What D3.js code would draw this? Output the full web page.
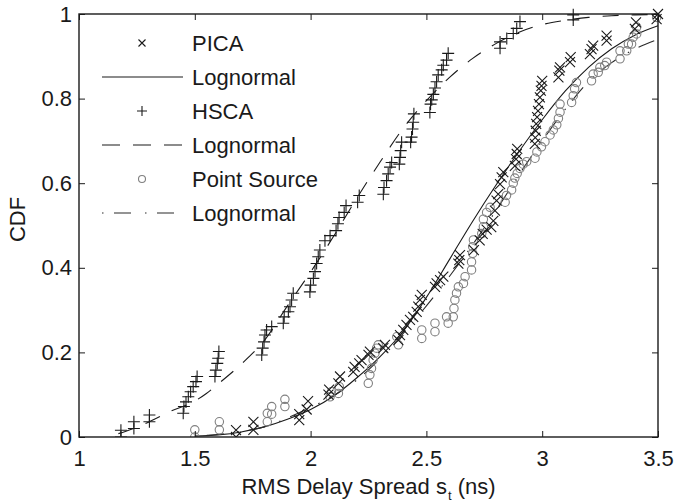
<!DOCTYPE html>
<html>
<head>
<meta charset="utf-8">
<script src="https://cdn.jsdelivr.net/npm/d3@7"></script>
<style>
  html, body { margin: 0; padding: 0; background: #fff; }
  svg { display: block; }
  text { font-family: "Liberation Sans", Arial, Helvetica, sans-serif; fill: #1a1a1a; }
</style>
</head>
<body>
<svg id="chart" width="674" height="504"></svg>
<script>
// ---------------- data ----------------
const xTicks = [1, 1.5, 2, 2.5, 3, 3.5];
const yTicks = [0, 0.2, 0.4, 0.6, 0.8, 1];
const xTickLabels = ["1", "1.5", "2", "2.5", "3", "3.5"];
const yTickLabels = ["0", "0.2", "0.4", "0.6", "0.8", "1"];
const legendLabels = ["PICA", "Lognormal", "HSCA", "Lognormal", "Point Source", "Lognormal"];

const picaPoints = [
  [1.678,0.0],[1.678,0.016],[1.753,0.017],[1.753,0.036],[1.951,0.04],[1.951,0.054],[1.983,0.065],[1.989,0.085],
  [2.077,0.1],[2.08,0.112],[2.12,0.127],[2.127,0.143],
  [2.184,0.154],[2.19,0.166],[2.21,0.174],[2.22,0.182],[2.25,0.194],[2.256,0.202],[2.314,0.21],[2.321,0.218],
  [2.379,0.229],[2.386,0.241],[2.40,0.253],[2.414,0.265],[2.429,0.277],[2.443,0.284],[2.458,0.296],[2.465,0.308],[2.472,0.324],[2.48,0.336],
  [2.537,0.355],[2.544,0.363],[2.559,0.371],[2.573,0.379],
  [2.638,0.41],[2.642,0.418],[2.645,0.43],
  [2.705,0.442],[2.73,0.465],[2.743,0.48],[2.76,0.49],
  [2.78,0.496],[2.789,0.511],[2.796,0.535],[2.803,0.559],[2.81,0.574],[2.818,0.598],[2.825,0.614],[2.832,0.626],
  [2.882,0.641],[2.887,0.657],[2.89,0.669],[2.892,0.681],
  [2.968,0.693],[2.97,0.708],[2.972,0.724],[2.974,0.74],[2.978,0.756],[2.982,0.771],[2.986,0.787],[2.99,0.803],[2.994,0.819],[2.997,0.83],[3.0,0.842],
  [3.07,0.85],[3.074,0.866],[3.077,0.874],[3.12,0.886],[3.123,0.898],
  [3.206,0.905],[3.213,0.917],[3.22,0.925],[3.278,0.937],[3.278,0.949],
  [3.40,0.965],[3.405,0.98],[3.494,0.988],[3.5,1.0]
];

const hscaPoints = [
  [1.181,0.0],[1.181,0.016],[1.237,0.02],[1.237,0.036],[1.304,0.036],[1.304,0.052],
  [1.45,0.056],[1.453,0.072],[1.462,0.083],[1.472,0.095],[1.482,0.107],[1.493,0.119],[1.505,0.131],[1.51,0.143],
  [1.587,0.143],[1.591,0.158],[1.597,0.174],[1.601,0.186],[1.604,0.202],
  [1.789,0.194],[1.793,0.21],[1.799,0.225],[1.803,0.241],[1.81,0.253],[1.832,0.261],
  [1.882,0.269],[1.886,0.284],[1.904,0.296],[1.911,0.308],[1.918,0.324],[1.925,0.34],
  [1.997,0.343],[2.0,0.359],[2.012,0.375],[2.019,0.391],[2.026,0.41],[2.033,0.426],[2.04,0.442],
  [2.062,0.464],[2.084,0.476],[2.11,0.488],[2.118,0.504],[2.123,0.519],[2.145,0.531],[2.153,0.547],[2.203,0.555],[2.21,0.571],
  [2.314,0.574],[2.317,0.59],[2.328,0.606],[2.335,0.622],[2.343,0.638],[2.35,0.649],
  [2.383,0.645],[2.386,0.661],[2.389,0.677],[2.393,0.697],
  [2.432,0.697],[2.436,0.709],[2.44,0.728],[2.443,0.744],[2.446,0.764],
  [2.515,0.767],[2.518,0.787],[2.523,0.797],[2.53,0.81],[2.537,0.825],[2.544,0.84],[2.551,0.856],[2.566,0.868],[2.573,0.879],[2.587,0.891],[2.594,0.907],
  [2.818,0.919],[2.818,0.934],[2.847,0.942],[2.875,0.954],[2.89,0.966],[2.904,0.982],
  [3.134,0.986],[3.134,0.998]
];

const psPoints = [
  [1.5,0.0],[1.5,0.017],[1.606,0.017],[1.606,0.036],[1.813,0.036],[1.813,0.056],[1.832,0.054],[1.832,0.072],[1.889,0.072],[1.889,0.089],
  [2.084,0.095],[2.09,0.107],[2.12,0.103],[2.124,0.119],
  [2.249,0.127],[2.256,0.147],[2.263,0.162],[2.27,0.182],[2.278,0.198],[2.285,0.21],[2.292,0.218],
  [2.372,0.237],[2.379,0.218],
  [2.48,0.233],[2.48,0.253],[2.537,0.249],[2.537,0.269],
  [2.594,0.269],[2.587,0.284],[2.616,0.284],[2.619,0.304],[2.623,0.324],[2.63,0.34],[2.638,0.355],[2.66,0.363],[2.667,0.379],
  [2.695,0.395],[2.695,0.414],[2.70,0.434],[2.70,0.45],[2.703,0.466],[2.739,0.481],[2.746,0.497],
  [2.746,0.515],[2.76,0.531],[2.775,0.543],
  [2.84,0.555],[2.846,0.571],[2.868,0.584],[2.875,0.6],[2.882,0.612],[2.892,0.623],[2.904,0.635],[2.918,0.645],[2.933,0.651],
  [2.969,0.659],[2.977,0.674],[2.997,0.686],[3.012,0.698],[3.034,0.714],[3.048,0.726],[3.063,0.738],[3.07,0.753],[3.077,0.768],[3.077,0.787],
  [3.127,0.791],[3.134,0.807],[3.14,0.823],[3.148,0.838],
  [3.213,0.842],[3.22,0.858],[3.242,0.862],[3.249,0.874],[3.27,0.878],[3.278,0.886],
  [3.336,0.894],[3.336,0.913],[3.365,0.913],[3.372,0.929],[3.386,0.929],[3.393,0.945],[3.408,0.953],[3.408,0.969],[3.494,0.992]
];

// fitted lognormal curves
const picaFit = [
  [1.5,0.002],[1.6,0.005],[1.7,0.012],[1.8,0.024],[1.9,0.042],[2.0,0.065],[2.1,0.097],[2.2,0.14],[2.3,0.19],
  [2.4,0.25],[2.5,0.33],[2.6,0.42],[2.7,0.51],[2.8,0.595],[2.9,0.675],[3.0,0.75],[3.1,0.818],[3.2,0.874],
  [3.3,0.918],[3.4,0.95],[3.5,0.972]
];
const hscaFit = [
  [1.17,0.008],[1.2,0.013],[1.3,0.035],[1.4,0.062],[1.5,0.085],[1.55,0.103],[1.6,0.125],[1.7,0.172],[1.8,0.228],
  [1.9,0.31],[2.0,0.39],[2.1,0.475],[2.2,0.565],[2.3,0.65],[2.4,0.73],[2.5,0.795],[2.6,0.85],[2.7,0.895],
  [2.8,0.93],[2.9,0.957],[3.0,0.975],[3.1,0.985],[3.2,0.992],[3.3,0.996],[3.4,0.998],[3.5,0.999]
];
const psFit = [
  [1.5,0.002],[1.6,0.006],[1.7,0.013],[1.8,0.024],[1.9,0.045],[2.0,0.07],[2.1,0.098],[2.2,0.135],[2.3,0.185],
  [2.4,0.245],[2.5,0.31],[2.6,0.38],[2.7,0.455],[2.8,0.535],[2.9,0.62],[3.0,0.70],[3.1,0.775],[3.2,0.84],
  [3.3,0.885],[3.4,0.917],[3.5,0.94]
];

// ---------------- drawing ----------------
const svg = d3.select("#chart");
const L = 79, R = 658, T = 14, B = 437;
const x = d3.scaleLinear().domain([1, 3.5]).range([L, R]);
const y = d3.scaleLinear().domain([0, 1]).range([B, T]);
const FS = 22;
const ink = "#1a1a1a";

const line = d3.line().x(d => x(d[0])).y(d => y(d[1])).curve(d3.curveMonotoneX);

svg.append("clipPath").attr("id", "clip")
  .append("rect").attr("x", L).attr("y", T - 8).attr("width", R - L + 8).attr("height", B - T + 8);

const plot = svg.append("g").attr("clip-path", "url(#clip)");

// curves
plot.append("path").datum(picaFit).attr("d", line)
  .attr("fill", "none").attr("stroke", ink).attr("stroke-width", 1.1);
plot.append("path").datum(hscaFit).attr("d", line)
  .attr("fill", "none").attr("stroke", ink).attr("stroke-width", 1.1).attr("stroke-dasharray", "16,13");
plot.append("path").datum(psFit).attr("d", line)
  .attr("fill", "none").attr("stroke", "#2a2a2a").attr("stroke-width", 1.1).attr("stroke-dasharray", "1.5,10.5,17,14");

// markers
const crossPath = "M-5,-5L5,5M-5,5L5,-5";
const plusPath = "M-6,0H6M0,-6V6";

plot.append("g").selectAll("circle").data(psPoints).join("circle")
  .attr("cx", d => x(d[0])).attr("cy", d => y(d[1])).attr("r", 4.2)
  .attr("fill", "none").attr("stroke", "#808080").attr("stroke-width", 1.1);

plot.append("g").selectAll("path").data(picaPoints).join("path")
  .attr("transform", d => `translate(${x(d[0])},${y(d[1])})`)
  .attr("d", crossPath).attr("fill", "none").attr("stroke", ink).attr("stroke-width", 1.1);

plot.append("g").selectAll("path").data(hscaPoints).join("path")
  .attr("transform", d => `translate(${x(d[0])},${y(d[1])})`)
  .attr("d", plusPath).attr("fill", "none").attr("stroke", ink).attr("stroke-width", 1.1);

// axes
function styleAxis(g) {
  g.select(".domain").remove();
  g.selectAll(".tick line").attr("stroke", ink).attr("stroke-width", 1);
  g.selectAll(".tick text").attr("font-size", FS).attr("fill", ink)
    .style("font-family", '"Liberation Sans", Arial, Helvetica, sans-serif');
}
svg.append("g").attr("transform", `translate(0,${B})`)
  .call(d3.axisBottom(x).tickValues(xTicks).tickFormat((d, i) => xTickLabels[i]).tickSizeInner(-6).tickSizeOuter(0).tickPadding(13))
  .call(styleAxis);
svg.append("g").attr("transform", `translate(0,${T})`)
  .call(d3.axisTop(x).tickValues(xTicks).tickFormat("").tickSizeInner(-6).tickSizeOuter(0))
  .call(styleAxis);
svg.append("g").attr("transform", `translate(${L},0)`)
  .call(d3.axisLeft(y).tickValues(yTicks).tickFormat((d, i) => yTickLabels[i]).tickSizeInner(-6).tickSizeOuter(0).tickPadding(7))
  .call(styleAxis);
svg.append("g").attr("transform", `translate(${R},0)`)
  .call(d3.axisRight(y).tickValues(yTicks).tickFormat("").tickSizeInner(-6).tickSizeOuter(0))
  .call(styleAxis);

// frame
svg.append("rect").attr("x", L).attr("y", T).attr("width", R - L).attr("height", B - T)
  .attr("fill", "none").attr("stroke", ink).attr("stroke-width", 1.4);

// axis titles
const xt = svg.append("text").attr("x", (L + R) / 2).attr("y", 494)
  .attr("text-anchor", "middle").attr("font-size", FS);
xt.append("tspan").text("RMS Delay Spread s");
xt.append("tspan").attr("font-size", 13).attr("dx", 1).attr("dy", 6).text("t");
xt.append("tspan").attr("font-size", FS).attr("dy", -6).text(" (ns)");

svg.append("text").attr("transform", `translate(25,${(T + B) / 2 - 6}) rotate(-90)`)
  .attr("text-anchor", "middle").attr("font-size", FS).text("CDF");

// legend
const lg = svg.append("g");
const rowY = i => 43 + i * 34;
const sx0 = 102, sx1 = 183, mx = 142, tx = 192;
legendLabels.forEach((lab, i) => {
  lg.append("text").attr("x", tx).attr("y", rowY(i)).attr("dy", "0.35em").attr("font-size", FS).text(lab);
});
lg.append("path").attr("transform", `translate(${mx},${rowY(0)})`).attr("d", "M-3.5,-3.5L3.5,3.5M-3.5,3.5L3.5,-3.5")
  .attr("stroke", ink).attr("stroke-width", 1.1);
lg.append("line").attr("x1", sx0).attr("x2", sx1).attr("y1", rowY(1)).attr("y2", rowY(1))
  .attr("stroke", ink).attr("stroke-width", 1.1);
lg.append("path").attr("transform", `translate(${mx},${rowY(2)})`).attr("d", "M-5,0H5M0,-5V5")
  .attr("stroke", ink).attr("stroke-width", 1.1);
lg.append("line").attr("x1", sx0).attr("x2", sx1).attr("y1", rowY(3)).attr("y2", rowY(3))
  .attr("stroke", ink).attr("stroke-width", 1.1).attr("stroke-dasharray", "18,13");
lg.append("circle").attr("cx", mx).attr("cy", rowY(4)).attr("r", 3.5)
  .attr("fill", "none").attr("stroke", "#808080").attr("stroke-width", 1.1);
lg.append("line").attr("x1", sx0).attr("x2", sx1).attr("y1", rowY(5)).attr("y2", rowY(5))
  .attr("stroke", "#2a2a2a").attr("stroke-width", 1.1).attr("stroke-dasharray", "1.5,10.5,17,14");
</script>
</body>
</html>
